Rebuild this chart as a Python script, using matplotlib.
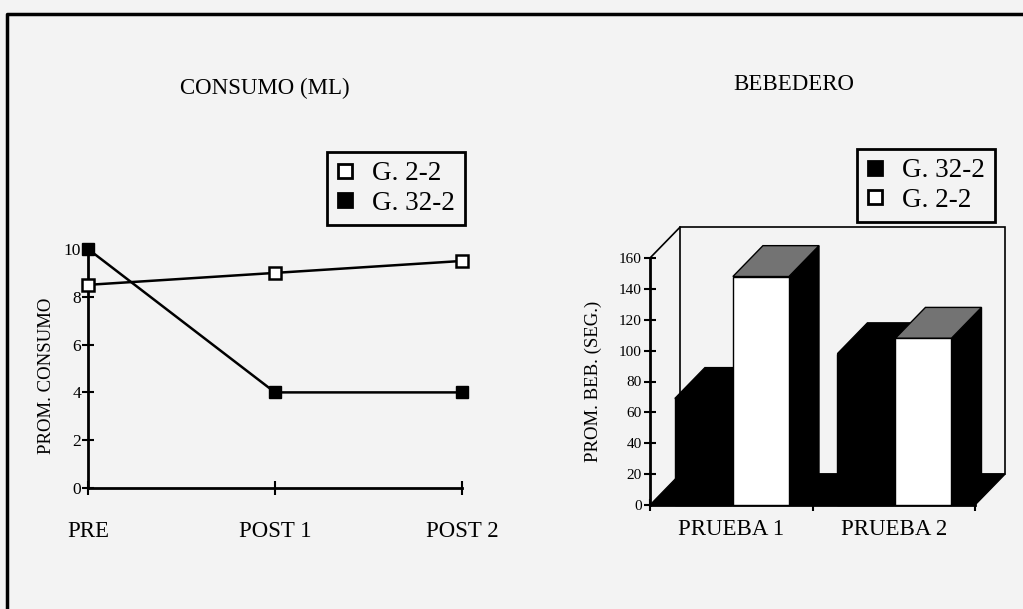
import matplotlib.pyplot as plt
from matplotlib.lines import Line2D
from matplotlib.patches import Polygon, Rectangle

plt.rcParams['font.family'] = ['Liberation Serif', 'DejaVu Serif']

# consumo medio por grupo
momentos = ['PRE', 'POST 1', 'POST 2']
consumo_g22 = [8.5, 9.0, 9.5]
consumo_g322 = [10, 4, 4]

# tiempo medio en el bebedero (seg.)
pruebas = ['PRUEBA 1', 'PRUEBA 2']
bebedero_g322 = [69, 98]
bebedero_g22 = [148, 108]

bg = '#f3f3f3'
fig = plt.figure(figsize=(10.23, 6.09), dpi=100, facecolor=bg)

# marco de la lamina
fig.add_artist(Line2D([7 / 1023, 7 / 1023, 1.0], [0.0, 1 - 14 / 609, 1 - 14 / 609],
                      transform=fig.transFigure, color='black', lw=2.5))

leg_kw = dict(loc='upper left', borderaxespad=0, fontsize=19.5, fancybox=False,
              edgecolor='black', facecolor=bg, framealpha=1, handlelength=0.6,
              handletextpad=0.72, borderpad=0.35, labelspacing=0.15)
h_open = Line2D([], [], ls='none', marker='s', ms=10.5, mfc='white', mec='black', mew=2)
h_fill = Line2D([], [], ls='none', marker='s', ms=10.5, mfc='black', mec='black', mew=2)

# ---------------- CONSUMO (ML) ----------------
ax1 = fig.add_axes([88 / 1023, 1 - 488 / 609, 374 / 1023, 239 / 609])
ax1.set_facecolor('none')
x = list(range(len(momentos)))
ax1.plot(x, consumo_g22, color='black', lw=1.8, marker='s', ms=8.5,
         mfc='white', mec='black', mew=1.8, clip_on=False, zorder=3)
ax1.plot(x, consumo_g322, color='black', lw=1.8, marker='s', ms=8.5,
         mfc='black', mec='black', clip_on=False, zorder=3)
ax1.set_xlim(0, 2)
ax1.set_ylim(0, 10)
ax1.set_xticks(x)
ax1.set_xticklabels(momentos, fontsize=16.5)
ax1.set_yticks(range(0, 11, 2))
ax1.tick_params(axis='y', direction='inout', length=8, width=1.5, pad=1, labelsize=12.5)
ax1.tick_params(axis='x', direction='inout', length=10, width=1.5, pad=19)
for s in ['top', 'right']:
    ax1.spines[s].set_visible(False)
for s in ['left', 'bottom']:
    ax1.spines[s].set_linewidth(2)
ax1.set_ylabel('PROM. CONSUMO', fontsize=13.5)
ax1.yaxis.set_label_coords(-0.088, 0.47)

fig.text(265 / 1023, 1 - 88 / 609, 'CONSUMO (ML)', ha='center', va='center', fontsize=16.5)

leg1 = fig.legend([h_open, h_fill], ['G. 2-2', 'G. 32-2'],
                  bbox_to_anchor=(327 / 1023, 1 - 152 / 609), **leg_kw)
leg1.get_frame().set_linewidth(2)

# ---------------- BEBEDERO ----------------
ax2 = fig.add_axes([650 / 1023, 1 - 505 / 609, 325 / 1023, 247 / 609])
ax2.set_facecolor('none')
ax2.set_xlim(0, 2)
ax2.set_ylim(0, 160)
dx, dy = 0.185, 20   # profundidad de la perspectiva
ancho = 0.345

# pared del fondo y piso
ax2.add_patch(Rectangle((dx, dy), 2, 160, facecolor='none', edgecolor='black',
                        lw=1.2, clip_on=False, zorder=1))
ax2.add_line(Line2D([0, dx], [160, 160 + dy], color='black', lw=1.2, clip_on=False))
ax2.add_patch(Polygon([(0, 0), (2, 0), (2 + dx, dy), (dx, dy)], closed=True,
                      facecolor='black', edgecolor='black', clip_on=False, zorder=2))


def barra3d(x0, h, frente, techo, lado):
    ax2.add_patch(Polygon([(x0 + ancho, 0), (x0 + ancho + dx, dy),
                           (x0 + ancho + dx, h + dy), (x0 + ancho, h)], closed=True,
                          facecolor=lado, edgecolor='black', lw=1, clip_on=False, zorder=3))
    ax2.add_patch(Polygon([(x0, h), (x0 + ancho, h), (x0 + ancho + dx, h + dy),
                           (x0 + dx, h + dy)], closed=True,
                          facecolor=techo, edgecolor='black', lw=1, clip_on=False, zorder=3))
    ax2.add_patch(Rectangle((x0, 0), ancho, h, facecolor=frente, edgecolor='black',
                            lw=1, clip_on=False, zorder=3))


for i in range(len(pruebas)):
    barra3d(i + 0.153, bebedero_g322[i], 'black', 'black', 'black')
    barra3d(i + 0.51, bebedero_g22[i], 'white', '#737373', 'black')

ax2.set_yticks(range(0, 161, 20))
ax2.set_xticks([0, 1, 2])
ax2.set_xticklabels([])
ax2.set_xticks([0.5, 1.5], minor=True)
ax2.set_xticklabels(pruebas, minor=True, fontsize=16.5)
ax2.tick_params(axis='x', which='major', direction='inout', length=8, width=1.5)
ax2.tick_params(axis='x', which='minor', length=0, pad=10)
ax2.tick_params(axis='y', direction='inout', length=8, width=1.5, pad=2, labelsize=11)
for s in ['top', 'right']:
    ax2.spines[s].set_visible(False)
for s in ['left', 'bottom']:
    ax2.spines[s].set_linewidth(2)
ax2.set_ylabel('PROM. BEB. (SEG.)', fontsize=13.5)
ax2.yaxis.set_label_coords(-0.148, 0.5)

fig.text(794 / 1023, 1 - 84 / 609, 'BEBEDERO', ha='center', va='center', fontsize=16.5)

leg2 = fig.legend([h_fill, h_open], ['G. 32-2', 'G. 2-2'],
                  bbox_to_anchor=(857 / 1023, 1 - 149 / 609), **leg_kw)
leg2.get_frame().set_linewidth(2)

fig.savefig('out.png', dpi=100, facecolor=bg)
